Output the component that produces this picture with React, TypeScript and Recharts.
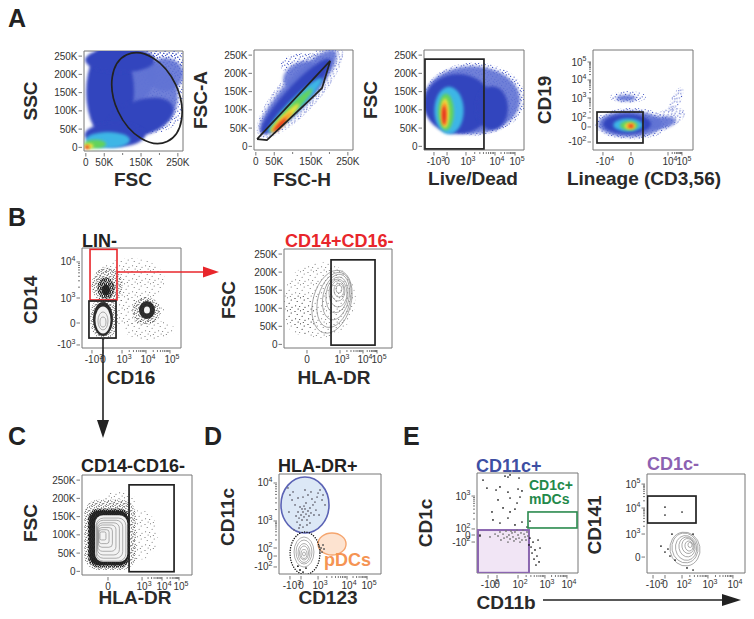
import type { ReactNode } from "react";
import { ScatterChart, Scatter, XAxis, YAxis } from "recharts";

type Tick = [number, string];
type Blob = { x: number; y: number; rx: number; ry: number; rot?: number; sq?: number; lvl?: string };
type Pt = { x: number; y: number };
type Frame = { l: number; t: number; w: number; h: number };
type Sc = { kx: number; ky: number };

const FONT = '"Liberation Sans", Arial, Helvetica, sans-serif';
const RED = "#e8262b";
const BOX = "#777";
const INK = "#2a2a2a";

// ---------- axes ----------
const LIN_X: [number, number] = [-5000, 264000];
const LIN_Y: [number, number] = [-10000, 264000];
const CH: [number, number] = [0, 1024];

const LIN_X_TICKS: Tick[] = [[0, "0"], [50000, "50K"], [100000, ""], [150000, "150K"], [200000, ""], [250000, "250K"]];
const LIN_Y_TICKS: Tick[] = [[0, "0"], [50000, "50K"], [100000, "100K"], [150000, "150K"], [200000, "200K"], [250000, "250K"]];
const A3_X: Tick[] = [[102, "-10^3"], [236, "0"], [430, "10^3"], [727, "10^4"], [932, "10^5"]];
const A4_X: Tick[] = [[102, "-10^4"], [389, "0"], [768, "10^4"], [911, "10^5"]];
const A4_Y: Tick[] = [[82, "-10^2"], [236, "0"], [328, "10^2"], [532, "10^3"], [717, "10^4"], [901, "10^5"]];
const B1_X: Tick[] = [[103, "-10^3"], [217, "0"], [414, "10^3"], [662, "10^4"], [910, "10^5"]];
const B1_Y: Tick[] = [[31, "-10^3"], [256, "0"], [512, "10^3"], [881, "10^4"]];
const B2_X: Tick[] = [[218, "0"], [531, "10^3"], [749, "10^4"], [882, "10^5"]];
const C_X: Tick[] = [[242, "0"], [559, "10^3"], [745, "10^4"], [903, "10^5"]];
const D_X: Tick[] = [[110, "-10^3"], [221, "0"], [392, "10^3"], [683, "10^4"], [884, "10^5"]];
const D_Y: Tick[] = [[72, "-10^2"], [184, "0"], [266, "10^2"], [543, "10^3"], [932, "10^4"]];
const E1_X: Tick[] = [[112, "-10^2"], [203, "0"], [416, "10^2"], [689, "10^3"], [912, "10^4"]];
const E1_Y: Tick[] = [[317, "-10^2"], [389, "0"], [451, "10^2"], [788, "10^3"]];
const E2_X: Tick[] = [[63, "-10^2"], [188, "0"], [366, "10^2"], [637, "10^3"], [898, "10^4"]];
const E2_Y: Tick[] = [[165, "0"], [403, "10^3"], [672, "10^4"], [920, "10^5"]];

// ---------- density estimates ----------
const A1_BLOBS: Blob[] = [
  { x: 174000, y: 163000, rx: 114000, ry: 126000, lvl: "p0" },
  { x: 174000, y: 226000, rx: 109000, ry: 55000, lvl: "p0" },
  { x: 170000, y: 140000, rx: 80000, ry: 95000, lvl: "b0" },
  { x: 134000, y: 198000, rx: 54000, ry: 68000, lvl: "b0" },
  { x: 215000, y: 200000, rx: 50000, ry: 45000, lvl: "b0" },
  { x: 66000, y: 152000, rx: 65000, ry: 132000, lvl: "b1" },
  { x: 93000, y: 239000, rx: 95000, ry: 33000, lvl: "b1" },
  { x: 147000, y: 80000, rx: 95000, ry: 49000, rot: -20, lvl: "b1" },
  { x: 79000, y: 34000, rx: 82000, ry: 33000, lvl: "b1" },
  { x: 60000, y: 20000, rx: 60000, ry: 22000, lvl: "b2" },
  { x: 25000, y: 9000, rx: 30000, ry: 12000, lvl: "b3" },
  { x: 8700, y: 3700, rx: 12000, ry: 7000, lvl: "b4" },
  { x: 4000, y: 1000, rx: 7000, ry: 5000, lvl: "b5" },
  { x: 3300, y: 0, rx: 4500, ry: 3500, lvl: "b6" },
];
const A1_GATE: Blob[] = [{ x: 166000, y: 135000, rx: 130000, ry: 87000, rot: 65 }];

const A2_BLOBS: Blob[] = [
  { x: 120000, y: 152000, rx: 165000, ry: 55000, rot: -48, lvl: "p0" },
  { x: 134000, y: 223000, rx: 68000, ry: 33000, lvl: "p0" },
  { x: 115000, y: 149000, rx: 150000, ry: 40000, rot: -48, lvl: "b0" },
  { x: 120000, y: 196000, rx: 49000, ry: 33000, rot: -30, lvl: "b0" },
  { x: 109000, y: 138000, rx: 136000, ry: 28000, rot: -47, lvl: "b1" },
  { x: 106500, y: 113000, rx: 103000, ry: 17000, rot: -45, lvl: "b2" },
  { x: 95600, y: 99600, rx: 81500, ry: 12000, rot: -45, lvl: "b3" },
  { x: 79000, y: 77700, rx: 54000, ry: 9000, rot: -45, lvl: "b4" },
  { x: 71000, y: 66700, rx: 38000, ry: 7000, rot: -45, lvl: "b5" },
  { x: 66000, y: 58500, rx: 24500, ry: 5000, rot: -45, lvl: "b6" },
];
const A2_GATE: Pt[] = [
  { x: 3300, y: 20000 }, { x: 30000, y: 17000 }, { x: 161000, y: 141000 },
  { x: 180000, y: 160000 }, { x: 202000, y: 234000 }, { x: 3300, y: 20000 },
];

const A3_BLOBS: Blob[] = [
  { x: 520, y: 130000, rx: 520, ry: 100000, lvl: "p0" },
  { x: 491, y: 127000, rx: 492, ry: 93000, lvl: "b0" },
  { x: 348, y: 116000, rx: 348, ry: 82000, lvl: "b1" },
  { x: 696, y: 105000, rx: 164, ry: 60000, lvl: "b1" },
  { x: 256, y: 98000, rx: 150, ry: 65000, lvl: "b2" },
  { x: 225, y: 94000, rx: 80, ry: 50000, lvl: "b3" },
  { x: 215, y: 91000, rx: 42, ry: 40000, lvl: "b4" },
  { x: 210, y: 89000, rx: 28, ry: 33000, lvl: "b5" },
  { x: 205, y: 85000, rx: 18, ry: 26000, lvl: "b6" },
];
const A3_GATE = [10, 614, -7000, 239000];

const A4_BLOBS: Blob[] = [
  { x: 400, y: 270, rx: 380, ry: 160, lvl: "p0" },
  { x: 768, y: 328, rx: 184, ry: 92, rot: -20, lvl: "p0" },
  { x: 850, y: 512, rx: 51, ry: 143, rot: 25, lvl: "p0" },
  { x: 358, y: 543, rx: 184, ry: 61, lvl: "p0" },
  { x: 338, y: 532, rx: 102, ry: 31, lvl: "b0" },
  { x: 686, y: 276, rx: 164, ry: 61, rot: -10, lvl: "b0" },
  { x: 379, y: 266, rx: 328, ry: 133, lvl: "b0" },
  { x: 348, y: 266, rx: 246, ry: 102, lvl: "b1" },
  { x: 358, y: 256, rx: 150, ry: 66, lvl: "b2" },
  { x: 369, y: 251, rx: 92, ry: 46, lvl: "b3" },
  { x: 379, y: 246, rx: 55, ry: 32, lvl: "b4" },
  { x: 384, y: 246, rx: 38, ry: 24, lvl: "b5" },
  { x: 389, y: 246, rx: 24, ry: 16, lvl: "b6" },
];
const A4_GATE = [41, 512, 72, 389];

const B1_BLOBS: Blob[] = [
  { x: 496, y: 696, rx: 362, ry: 225, lvl: "g0" },
  { x: 496, y: 369, rx: 362, ry: 143, lvl: "g0" },
  { x: 703, y: 184, rx: 259, ry: 102, lvl: "g0" },
  { x: 259, y: 645, rx: 160, ry: 180, lvl: "g1" },
  { x: 227, y: 307, rx: 145, ry: 225, lvl: "g1" },
  { x: 662, y: 379, rx: 145, ry: 143, lvl: "g1" },
  { x: 248, y: 614, rx: 90, ry: 110, lvl: "g2" },
  { x: 248, y: 594, rx: 41, ry: 55, lvl: "g3" },
  { x: 217, y: 297, rx: 103, ry: 174, lvl: "g3" },
  { x: 672, y: 389, rx: 83, ry: 92, lvl: "g3" },
  { x: 217, y: 287, rx: 78, ry: 138, lvl: "w" },
  { x: 672, y: 389, rx: 31, ry: 36, lvl: "w" },
];
const B1_CONT: Blob[] = [
  { x: 217, y: 277, rx: 52, ry: 92 },
  { x: 217, y: 266, rx: 31, ry: 51 },
];
const B1_RED = [83, 362, 492, 1010];
const B1_BLACK = [72, 352, 102, 481];

const B2_BLOBS: Blob[] = [
  { x: 341, y: 123000, rx: 341, ry: 105000, lvl: "g0" },
  { x: 152, y: 81000, rx: 142, ry: 55000, lvl: "g0" },
];
const B2_CONT: Blob[] = [
  { x: 521, y: 153000, rx: 28, ry: 11000 },
  { x: 521, y: 150000, rx: 47, ry: 19000 },
  { x: 512, y: 148000, rx: 66, ry: 28000 },
  { x: 512, y: 142000, rx: 85, ry: 39000 },
  { x: 502, y: 137000, rx: 104, ry: 50000, rot: 8 },
  { x: 493, y: 131000, rx: 123, ry: 64000, rot: 12 },
  { x: 474, y: 123000, rx: 152, ry: 78000, rot: 15 },
  { x: 455, y: 118000, rx: 180, ry: 89000, rot: 15 },
];
const B2_GATE = [446, 863, -2000, 234000];

const C_BLOBS: Blob[] = [
  { x: 540, y: 100000, rx: 168, ry: 68000, lvl: "g0" },
  { x: 354, y: 196000, rx: 140, ry: 27000, lvl: "g0" },
  { x: 261, y: 100000, rx: 240, ry: 96000, sq: 0.55, lvl: "g1" },
  { x: 251, y: 91500, rx: 196, ry: 81000, sq: 0.5, lvl: "g2" },
  { x: 251, y: 91500, rx: 184, ry: 75000, sq: 0.5, lvl: "g3" },
  { x: 272, y: 90000, rx: 150, ry: 64000, sq: 0.5, lvl: "w" },
];
const C_CONT: Blob[] = [
  { x: 195, y: 97000, rx: 28, ry: 11000, sq: 0.5 },
  { x: 205, y: 95000, rx: 47, ry: 19000, sq: 0.5 },
  { x: 218, y: 93000, rx: 65, ry: 27000, sq: 0.5 },
  { x: 232, y: 91000, rx: 84, ry: 36000, sq: 0.5 },
  { x: 246, y: 89000, rx: 102, ry: 44000, sq: 0.5 },
  { x: 258, y: 88000, rx: 121, ry: 52000, sq: 0.5 },
  { x: 270, y: 87000, rx: 138, ry: 59000, sq: 0.5 },
];
const C_GATE = [438, 857, -1000, 237000];

const D_BLUE: Blob[] = [{ x: 261, y: 707, rx: 241, ry: 287 }];
const D_ORANGE: Blob[] = [{ x: 532, y: 307, rx: 141, ry: 113 }];
const D_RING: Blob[] = [{ x: 261, y: 212, rx: 150, ry: 218 }];
const D_CONT: Blob[] = [
  { x: 251, y: 225, rx: 100, ry: 154 },
  { x: 251, y: 225, rx: 80, ry: 123 },
  { x: 251, y: 215, rx: 60, ry: 97 },
  { x: 251, y: 215, rx: 45, ry: 72 },
  { x: 251, y: 205, rx: 30, ry: 46 },
  { x: 251, y: 205, rx: 15, ry: 20 },
];
const D_CD11C_DOTS: Pt[] = [
  { x: 181, y: 532 }, { x: 201, y: 573 }, { x: 221, y: 604 }, { x: 241, y: 635 }, { x: 261, y: 666 },
  { x: 211, y: 502 }, { x: 231, y: 553 }, { x: 251, y: 584 }, { x: 271, y: 614 }, { x: 291, y: 645 },
  { x: 311, y: 676 }, { x: 191, y: 635 }, { x: 171, y: 594 }, { x: 281, y: 553 }, { x: 301, y: 594 },
  { x: 321, y: 625 }, { x: 251, y: 696 }, { x: 271, y: 727 }, { x: 231, y: 666 }, { x: 211, y: 686 },
  { x: 341, y: 707 }, { x: 361, y: 737 }, { x: 331, y: 768 }, { x: 382, y: 788 }, { x: 392, y: 829 },
  { x: 412, y: 860 }, { x: 432, y: 758 }, { x: 462, y: 707 }, { x: 371, y: 655 }, { x: 351, y: 604 },
  { x: 161, y: 707 }, { x: 131, y: 758 }, { x: 110, y: 809 }, { x: 90, y: 881 }, { x: 141, y: 840 },
  { x: 191, y: 778 }, { x: 241, y: 788 }, { x: 291, y: 809 }, { x: 321, y: 840 }, { x: 261, y: 860 },
  { x: 201, y: 471 }, { x: 241, y: 481 }, { x: 281, y: 502 }, { x: 151, y: 451 }, { x: 311, y: 522 },
  { x: 100, y: 635 }, { x: 402, y: 604 }, { x: 442, y: 809 },
];
const D_PDC_DOTS: Pt[] = [
  { x: 402, y: 287 }, { x: 422, y: 266 }, { x: 442, y: 297 }, { x: 412, y: 246 }, { x: 452, y: 256 }, { x: 432, y: 225 },
];
const D_LOW_DOTS: Pt[] = [{ x: 211, y: 41 }, { x: 241, y: 20 }, { x: 271, y: 61 }, { x: 190, y: 80 }];

const E1_SPARSE: Pt[] = [
  { x: 61, y: 952 }, { x: 284, y: 993 }, { x: 314, y: 983 }, { x: 335, y: 1004 }, { x: 426, y: 973 },
  { x: 101, y: 870 }, { x: 193, y: 850 }, { x: 233, y: 881 }, { x: 314, y: 829 }, { x: 416, y: 860 }, { x: 456, y: 840 },
  { x: 335, y: 768 }, { x: 406, y: 717 }, { x: 213, y: 748 }, { x: 436, y: 778 },
  { x: 264, y: 666 }, { x: 335, y: 625 }, { x: 152, y: 625 }, { x: 385, y: 655 },
  { x: 162, y: 543 }, { x: 233, y: 512 }, { x: 314, y: 563 }, { x: 385, y: 492 }, { x: 456, y: 522 }, { x: 507, y: 471 }, { x: 537, y: 532 },
  { x: 537, y: 358 }, { x: 568, y: 317 }, { x: 548, y: 266 }, { x: 588, y: 236 }, { x: 558, y: 205 }, { x: 608, y: 174 },
  { x: 578, y: 143 }, { x: 629, y: 113 }, { x: 598, y: 82 }, { x: 639, y: 256 }, { x: 527, y: 287 }, { x: 619, y: 338 },
  { x: 30, y: 389 }, { x: 30, y: 379 },
];
const E1_DENSE: Pt[] = [
  { x: 233, y: 420 }, { x: 264, y: 399 }, { x: 294, y: 430 }, { x: 324, y: 389 }, { x: 355, y: 410 },
  { x: 385, y: 420 }, { x: 416, y: 389 }, { x: 446, y: 410 }, { x: 477, y: 399 }, { x: 507, y: 420 },
  { x: 274, y: 358 }, { x: 304, y: 369 }, { x: 335, y: 348 }, { x: 365, y: 369 }, { x: 395, y: 348 },
  { x: 426, y: 358 }, { x: 456, y: 338 }, { x: 487, y: 369 }, { x: 517, y: 379 }, { x: 345, y: 430 },
  { x: 213, y: 379 }, { x: 243, y: 338 }, { x: 375, y: 328 }, { x: 436, y: 317 }, { x: 406, y: 440 },
  { x: 466, y: 440 }, { x: 314, y: 317 }, { x: 497, y: 338 }, { x: 183, y: 399 }, { x: 132, y: 369 },
];
const E1_PURPLE = [10, 527, 2, 440];
const E1_GREEN = [517, 1014, 461, 625];

const E2_CONT: Blob[] = [
  { x: 449, y: 290, rx: 21, ry: 26, rot: -10 },
  { x: 439, y: 279, rx: 42, ry: 52, rot: -10 },
  { x: 428, y: 279, rx: 63, ry: 78, rot: -10 },
  { x: 418, y: 269, rx: 84, ry: 103, rot: -10 },
  { x: 408, y: 259, rx: 110, ry: 129, rot: -10 },
  { x: 397, y: 259, rx: 136, ry: 155, rot: -10 },
  { x: 397, y: 248, rx: 157, ry: 176, rot: -10 },
];
const E2_DOTS: Pt[] = [
  { x: 188, y: 682 }, { x: 188, y: 600 }, { x: 366, y: 631 },
  { x: 261, y: 403 }, { x: 146, y: 279 }, { x: 188, y: 217 }, { x: 219, y: 248 }, { x: 240, y: 176 },
  { x: 293, y: 134 }, { x: 418, y: 52 }, { x: 481, y: 31 }, { x: 481, y: 403 },
];
const E2_GATE = [5, 512, 517, 796];

// ---------- layout ----------
const F: Record<string, Frame> = {
  A1: { l: 84, t: 51, w: 99, h: 100 },
  A2: { l: 254, t: 50, w: 99, h: 100 },
  A3: { l: 424, t: 50, w: 100, h: 100 },
  A4: { l: 593, t: 50, w: 100, h: 100 },
  B1: { l: 82, t: 248, w: 99, h: 100 },
  B2: { l: 284, t: 249, w: 108, h: 99 },
  C: { l: 82, t: 475, w: 110, h: 100 },
  D: { l: 279, t: 474, w: 102, h: 100 },
  E1: { l: 477, t: 473, w: 101, h: 100 },
  E2: { l: 647, t: 474, w: 98, h: 99 },
};
const YW = 42, XH = 24, T = 4, R = 16;

const LEVEL: Record<string, { fill: string; blur?: string; op?: number }> = {
  p0: { fill: "url(#spB)" },
  b0: { fill: "#5f72d4", blur: "soft", op: 0.9 },
  b1: { fill: "#3245be", blur: "soft" },
  b2: { fill: "#3cb6e6", blur: "soft" },
  b3: { fill: "#63d35c", blur: "soft" },
  b4: { fill: "#f2e23c", blur: "soft" },
  b5: { fill: "#f7982b", blur: "soft" },
  b6: { fill: "#e3231f", blur: "soft" },
  g0: { fill: "url(#st0)" },
  g1: { fill: "url(#st1)" },
  g2: { fill: "url(#st2)" },
  g3: { fill: "#1c1c1c", blur: "soft2", op: 0.92 },
  w: { fill: "#f3f3f3", blur: "soft2" },
};

// hand-placed dot positions for the stipple tiles
const SPECK_BLUE: [number, number][] = [[0.8, 1.2], [4.2, 0.6], [7.3, 1.9], [2.6, 3.4], [6.1, 4.1], [1.2, 5.8], [4.8, 6.4], [8.1, 7.2], [3.3, 8.3], [6.6, 8.6]];
const STIP_SPARSE: [number, number][] = [[1, 1.5], [6.5, 0.8], [10.2, 3.1], [3.2, 4.6], [8.1, 6.3], [1.6, 8.8], [5.7, 9.6], [11, 10.2], [4.1, 12.1], [9.3, 12.6]];
const STIP_MED: [number, number][] = [[0.6, 0.9], [3.1, 0.4], [5.6, 1.7], [1.9, 2.6], [4.2, 3.4], [0.8, 4.6], [3.4, 5.2], [6.3, 4.9], [2.2, 6.8], [5.1, 6.6]];
const STIP_DENSE: [number, number][] = [[0.5, 0.5], [2.5, 0.7], [1.5, 1.8], [3.4, 2.2], [0.6, 3.2], [2.4, 3.5], [1.2, 1.1]];

function splitLab(s: string): [string, string] {
  const i = s.indexOf("^");
  return i < 0 ? [s, ""] : [s.slice(0, i), s.slice(i + 1)];
}

// minor ticks between positive decades
function addMinor(t: Tick[]): Tick[] {
  const out: Tick[] = [...t];
  for (let i = 0; i + 1 < t.length; i++) {
    if (t[i][1].startsWith("10^") && t[i + 1][1].startsWith("10^")) {
      for (let m = 2; m < 10; m++) out.push([t[i][0] + (t[i + 1][0] - t[i][0]) * Math.log10(m), ""]);
    }
  }
  return out;
}

const mkXTick = (t: Tick[]) => (p: any) => {
  const lab = t.find((d) => Math.abs(d[0] - p.payload.value) < 1e-6)?.[1] ?? "";
  const [b, s] = splitLab(lab);
  return (
    <g>
      <line x1={p.x} y1={p.y} x2={p.x} y2={p.y + (lab ? 3.5 : 2)} stroke="#555" strokeWidth={0.8} />
      {lab && (
        <text x={p.x + (s ? 2 : 0)} y={p.y + 13} textAnchor="middle" fontSize={10} fontFamily={FONT} fill="#333">
          {b}
          {s && <tspan dy={-4.5} fontSize={7}>{s}</tspan>}
        </text>
      )}
    </g>
  );
};

const mkYTick = (t: Tick[]) => (p: any) => {
  const lab = t.find((d) => Math.abs(d[0] - p.payload.value) < 1e-6)?.[1] ?? "";
  const [b, s] = splitLab(lab);
  return (
    <g>
      <line x1={p.x - (lab ? 3.5 : 2)} y1={p.y} x2={p.x} y2={p.y} stroke="#555" strokeWidth={0.8} />
      {lab && (
        <text x={p.x - 4.5} y={p.y + 3.5} textAnchor="end" fontSize={10} fontFamily={FONT} fill="#333">
          {b}
          {s && <tspan dy={-4.5} fontSize={7}>{s}</tspan>}
        </text>
      )}
    </g>
  );
};

function shapeOf(p: any, b: Blob, s: Sc, st: any) {
  const rx = b.rx * s.kx, ry = b.ry * s.ky;
  if (b.sq != null) {
    return <rect x={p.cx - rx} y={p.cy - ry} width={2 * rx} height={2 * ry} rx={b.sq * Math.min(rx, ry)} {...st} />;
  }
  return (
    <ellipse cx={p.cx} cy={p.cy} rx={rx} ry={ry}
      transform={b.rot ? `rotate(${b.rot} ${p.cx} ${p.cy})` : undefined} {...st} />
  );
}

const blobLayer = (k: string, data: Blob[], s: Sc) => (
  <Scatter key={k} data={data} isAnimationActive={false}
    shape={(p: any) => {
      const lv = LEVEL[p.payload.lvl];
      return shapeOf(p, p.payload, s, {
        fill: lv.fill, fillOpacity: lv.op ?? 1, filter: lv.blur ? `url(#${lv.blur})` : undefined,
      });
    }} />
);

const ellLayer = (k: string, data: Blob[], s: Sc, st: any) => (
  <Scatter key={k} data={data} isAnimationActive={false}
    shape={(p: any) => shapeOf(p, p.payload, s, { fill: "none", ...st })} />
);

const dotLayer = (k: string, data: Pt[], color: string, r = 0.85) => (
  <Scatter key={k} data={data} isAnimationActive={false}
    shape={(p: any) => <circle cx={p.cx} cy={p.cy} r={r} fill={color} />} />
);

const rectGate = (k: string, g: number[], s: Sc, st: any) => (
  <Scatter key={k} data={[{ x: (g[0] + g[1]) / 2, y: (g[2] + g[3]) / 2 }]} isAnimationActive={false}
    shape={(p: any) => {
      const w = (g[1] - g[0]) * s.kx, h = (g[3] - g[2]) * s.ky;
      return <rect x={p.cx - w / 2} y={p.cy - h / 2} width={w} height={h} fill="none" {...st} />;
    }} />
);

const polyGate = (k: string, pts: Pt[], st: any) => (
  <Scatter key={k} data={pts} isAnimationActive={false} line={st} lineJointType="linear" shape={() => <g />} />
);

const GATE = { stroke: "#222", strokeWidth: 1.7 };
const CONT = { stroke: "#8c8c8c", strokeWidth: 0.7 };

function Panel({ f, xd, yd, xt, yt, render }: {
  f: Frame; xd: [number, number]; yd: [number, number]; xt: Tick[]; yt: Tick[]; render: (s: Sc) => ReactNode[];
}) {
  const s = { kx: f.w / (xd[1] - xd[0]), ky: f.h / (yd[1] - yd[0]) };
  const xs = addMinor(xt), ys = addMinor(yt);
  return (
    <div style={{ position: "absolute", left: f.l - YW, top: f.t - T }}>
      <ScatterChart width={f.w + YW + R} height={f.h + T + XH} margin={{ top: T - 1, right: R - 1, bottom: 0, left: 0 }}>
        <XAxis type="number" dataKey="x" domain={xd} allowDataOverflow ticks={xs.map((d) => d[0])} interval={0}
          tick={mkXTick(xs)} tickLine={false} tickSize={0} height={XH} axisLine={{ stroke: BOX }} />
        <YAxis type="number" dataKey="y" domain={yd} allowDataOverflow ticks={ys.map((d) => d[0])} interval={0}
          tick={mkYTick(ys)} tickLine={false} tickSize={0} width={YW} axisLine={{ stroke: BOX }} />
        <XAxis xAxisId="top" orientation="top" type="number" domain={xd} height={1} tick={false} tickLine={false} axisLine={{ stroke: BOX }} />
        <YAxis yAxisId="right" orientation="right" type="number" domain={yd} width={1} tick={false} tickLine={false} axisLine={{ stroke: BOX }} />
        {render(s)}
      </ScatterChart>
    </div>
  );
}

function tile(id: string, size: number, pts: [number, number][], r: number, color: string) {
  return (
    <pattern id={id} width={size} height={size} patternUnits="userSpaceOnUse">
      {pts.map(([x, y], i) => <circle key={i} cx={x} cy={y} r={r} fill={color} />)}
    </pattern>
  );
}

function Defs() {
  return (
    <svg width={0} height={0} style={{ position: "absolute" }}>
      <defs>
        <filter id="soft" x="-50%" y="-50%" width="200%" height="200%"><feGaussianBlur stdDeviation={1.8} /></filter>
        <filter id="soft2" x="-50%" y="-50%" width="200%" height="200%"><feGaussianBlur stdDeviation={0.7} /></filter>
        {tile("spB", 9, SPECK_BLUE, 0.6, "#3548c0")}
        {tile("st0", 13, STIP_SPARSE, 0.5, "#555")}
        {tile("st1", 7, STIP_MED, 0.55, "#333")}
        {tile("st2", 4, STIP_DENSE, 0.7, "#222")}
      </defs>
    </svg>
  );
}

const LETTERS: [string, number, number][] = [["A", 8, 27], ["B", 8, 226], ["C", 8, 445], ["D", 204, 445], ["E", 403, 445]];
const X_TITLES: [string, number, number][] = [
  ["FSC", 133, 186], ["FSC-H", 302, 186], ["Live/Dead", 473, 185], ["Lineage (CD3,56)", 644, 185],
  ["CD16", 131, 384], ["HLA-DR", 334, 384], ["HLA-DR", 135, 604], ["CD123", 328, 604], ["CD11b", 506, 609],
];
const Y_TITLES: [string, number, number][] = [
  ["SSC", 30, 101], ["FSC-A", 200, 100], ["FSC", 370, 100], ["CD19", 544, 100],
  ["CD14", 30, 300], ["FSC", 228, 300], ["FSC", 30, 523], ["CD11c", 227, 517], ["CD1c", 425, 523], ["CD141", 594, 525],
];
const P_TITLES: [string, number, number, string][] = [
  ["LIN-", 82, 247, "#222"], ["CD14+CD16-", 285, 247, RED], ["CD14-CD16-", 81, 472, "#222"],
  ["HLA-DR+", 278, 472, "#222"], ["CD11c+", 476, 472, "#3e4fa3"], ["CD1c-", 647, 470, "#8d62b2"],
];

function Overlay() {
  return (
    <svg width={754} height={619} style={{ position: "absolute", left: 0, top: 0, pointerEvents: "none" }} fontFamily={FONT}>
      {LETTERS.map(([t, x, y]) => (
        <text key={t} x={x} y={y} fontSize={25} fontWeight="bold" fill="#222">{t}</text>
      ))}
      {X_TITLES.map(([t, x, y], i) => (
        <text key={i} x={x} y={y} fontSize={19} fontWeight="bold" fill={INK} textAnchor="middle">{t}</text>
      ))}
      {Y_TITLES.map(([t, x, y], i) => (
        <text key={i} x={x} y={y} fontSize={19} fontWeight="bold" fill={INK} textAnchor="middle"
          dominantBaseline="central" transform={`rotate(-90 ${x} ${y})`}>{t}</text>
      ))}
      {P_TITLES.map(([t, x, y, c], i) => (
        <text key={i} x={x} y={y} fontSize={18} fontWeight="bold" fill={c}>{t}</text>
      ))}
      <text x={529} y={490} fontSize={14} fontWeight="bold" fill="#23894a">CD1c+</text>
      <text x={529} y={504} fontSize={14} fontWeight="bold" fill="#23894a">mDCs</text>
      <text x={324} y={566} fontSize={18} fontWeight="bold" fill="#f59453">pDCs</text>
      <line x1={117} y1={272} x2={205} y2={272} stroke={RED} strokeWidth={1.5} />
      <polygon points="203,266.5 219,272 203,277.5" fill={RED} />
      <line x1={103} y1={338} x2={103} y2={422} stroke="#222" strokeWidth={1.6} />
      <polygon points="97,420 109,420 103,438" fill="#222" />
      <line x1={543} y1={600} x2={724} y2={600} stroke="#222" strokeWidth={1.6} />
      <polygon points="722,594 741,600 722,606" fill="#222" />
    </svg>
  );
}

export default function App() {
  return (
    <div style={{ position: "absolute", left: 0, top: 0, width: 754, height: 619, background: "#fff", overflow: "hidden" }}>
      <Defs />
      <Panel f={F.A1} xd={LIN_X} yd={LIN_Y} xt={LIN_X_TICKS} yt={LIN_Y_TICKS}
        render={(s) => [blobLayer("b", A1_BLOBS, s), ellLayer("g", A1_GATE, s, GATE)]} />
      <Panel f={F.A2} xd={LIN_X} yd={LIN_Y} xt={LIN_X_TICKS} yt={LIN_Y_TICKS}
        render={(s) => [blobLayer("b", A2_BLOBS, s), polyGate("g", A2_GATE, GATE)]} />
      <Panel f={F.A3} xd={CH} yd={LIN_Y} xt={A3_X} yt={LIN_Y_TICKS}
        render={(s) => [blobLayer("b", A3_BLOBS, s), rectGate("g", A3_GATE, s, GATE)]} />
      <Panel f={F.A4} xd={CH} yd={CH} xt={A4_X} yt={A4_Y}
        render={(s) => [blobLayer("b", A4_BLOBS, s), rectGate("g", A4_GATE, s, GATE)]} />
      <Panel f={F.B1} xd={CH} yd={CH} xt={B1_X} yt={B1_Y}
        render={(s) => [
          blobLayer("b", B1_BLOBS, s), ellLayer("c", B1_CONT, s, CONT),
          rectGate("r", B1_RED, s, { stroke: RED, strokeWidth: 1.6 }), rectGate("k", B1_BLACK, s, GATE),
        ]} />
      <Panel f={F.B2} xd={CH} yd={LIN_Y} xt={B2_X} yt={LIN_Y_TICKS}
        render={(s) => [blobLayer("b", B2_BLOBS, s), ellLayer("c", B2_CONT, s, CONT), rectGate("g", B2_GATE, s, GATE)]} />
      <Panel f={F.C} xd={CH} yd={LIN_Y} xt={C_X} yt={LIN_Y_TICKS}
        render={(s) => [blobLayer("b", C_BLOBS, s), ellLayer("c", C_CONT, s, CONT), rectGate("g", C_GATE, s, GATE)]} />
      <Panel f={F.D} xd={CH} yd={CH} xt={D_X} yt={D_Y}
        render={(s) => [
          ellLayer("bl", D_BLUE, s, { fill: "#dce8f6", stroke: "#5b63b5", strokeWidth: 1.6 }),
          ellLayer("or", D_ORANGE, s, { fill: "#fde3d0", stroke: "#f5a56e", strokeWidth: 1.4 }),
          ellLayer("c", D_CONT, s, CONT),
          ellLayer("ring", D_RING, s, { stroke: "#111", strokeWidth: 1.4, strokeDasharray: "0.1 2.4", strokeLinecap: "round" }),
          dotLayer("d1", D_CD11C_DOTS, "#6c6c78", 0.9),
          dotLayer("d2", D_PDC_DOTS, "#555", 0.9),
          dotLayer("d3", D_LOW_DOTS, "#111", 0.9),
        ]} />
      <Panel f={F.E1} xd={CH} yd={CH} xt={E1_X} yt={E1_Y}
        render={(s) => [
          rectGate("p", E1_PURPLE, s, { fill: "#f1e5f5", stroke: "#8b66b0", strokeWidth: 2 }),
          dotLayer("d1", E1_SPARSE, "#111", 0.85),
          dotLayer("d2", E1_DENSE, "#777", 0.9),
          rectGate("gr", E1_GREEN, s, { stroke: "#2a8a4e", strokeWidth: 1.6 }),
        ]} />
      <Panel f={F.E2} xd={CH} yd={CH} xt={E2_X} yt={E2_Y}
        render={(s) => [ellLayer("c", E2_CONT, s, CONT), dotLayer("d", E2_DOTS, "#111", 0.85), rectGate("g", E2_GATE, s, GATE)]} />
      <Overlay />
    </div>
  );
}
